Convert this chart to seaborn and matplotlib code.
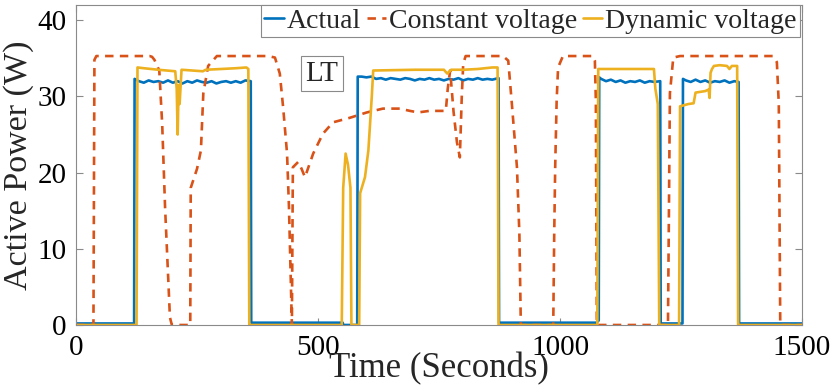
import matplotlib
matplotlib.use("Agg")
import matplotlib.pyplot as plt
import seaborn as sns

# ---- data ----
actual_t = [0, 120, 121, 130, 140, 150, 160, 170, 180, 190, 200, 210, 220, 230, 240, 250,
            260, 270, 280, 290, 300, 310, 320, 330, 340, 350, 361, 362, 551, 552, 581, 582,
            590, 600, 610, 620, 630, 640, 650, 660, 670, 680, 690, 700, 710, 720, 730, 740,
            750, 760, 770, 780, 790, 800, 810, 820, 830, 840, 850, 860, 873, 874, 1075, 1080,
            1081, 1085, 1095, 1105, 1115, 1125, 1135, 1145, 1155, 1165, 1175, 1185, 1195, 1207,
            1208, 1253, 1254, 1260, 1270, 1280, 1290, 1300, 1310, 1320, 1330, 1340, 1350, 1360,
            1369, 1370, 1500]
actual_p = [0.2, 0.2, 32.3, 32.0, 31.8, 32.1, 31.9, 32.0, 31.8, 32.1, 31.8, 32.0, 31.7, 32.0, 31.8, 32.1,
            31.9, 31.8, 32.0, 31.7, 31.9, 32.0, 31.8, 32.0, 31.8, 32.1, 32.0, 0.3, 0.3, 0.0, 0.0, 32.6,
            32.6, 32.5, 32.6, 32.3, 32.4, 32.2, 32.4, 32.3, 32.2, 32.4, 32.3, 32.1, 32.3, 32.2, 32.4, 32.2,
            32.3, 32.1, 32.3, 32.2, 32.4, 32.1, 32.3, 32.2, 32.4, 32.2, 32.3, 32.2, 32.4, 0.3, 0.3, 0.6,
            32.5, 32.3, 32.0, 32.2, 31.9, 32.1, 31.8, 32.0, 31.9, 32.1, 31.8, 32.0, 31.9, 32.0,
            0.2, 0.2, 32.3, 32.1, 31.9, 32.2, 31.9, 32.1, 31.8, 32.0, 31.9, 32.1, 31.8, 32.0,
            31.9, 0.2, 0.2]

constant_t = [0, 36, 38, 42, 152, 157, 162, 172, 178, 184, 190, 194, 198, 236, 237, 250, 258,
              263, 273, 291, 397, 411, 421, 428, 436, 440, 446, 448, 459, 466, 473, 490, 510,
              531, 566, 601, 634, 669, 690, 707, 730, 764, 768, 773, 780, 787, 793, 797, 800,
              805, 882, 893, 900, 911, 916, 919, 986, 988, 990, 993, 996, 1006, 1068, 1072,
              1074, 1076, 1223, 1225, 1227, 1234, 1248, 1440, 1448, 1452, 1455, 1500]
constant_p = [0, 0, 34.8, 35.3, 35.3, 35.2, 34.8, 33.4, 26.4, 15.4, 6.8, 1.0, 0, 0, 18.0, 20.5, 22.9,
              30.4, 34.0, 35.3, 35.3, 35.1, 33.0, 28.5, 22.5, 15.4, 0, 20.7, 21.4, 20.5, 19.4, 22.5, 25.1,
              26.6, 27.2, 27.9, 28.4, 28.4, 28.1, 27.9, 28.1, 28.1, 31.0, 33.4, 28.0, 24.0, 22.0, 30.0, 34.3,
              35.3, 35.3, 34.7, 29.4, 20.7, 12.0, 0, 0, 12.0, 20.7, 29.4, 33.8, 35.3, 35.3, 34.7,
              29.4, 0, 0, 15.0, 30.4, 35.1, 35.3, 35.3, 34.5, 29.0, 0, 0]

dynamic_t = [0, 125, 127, 140, 170, 205, 208, 210, 212, 214, 218, 240, 262, 268, 300, 330, 352,
             356, 358, 549, 552, 557, 562, 567, 569, 585, 587, 597, 604, 611, 614, 700, 760,
             767, 775, 800, 830, 860, 871, 873, 1077, 1079, 1150, 1194, 1197, 1202, 1205, 1246,
             1248, 1265, 1276, 1280, 1300, 1307, 1309, 1311, 1314, 1318, 1330, 1345, 1350, 1355,
             1366, 1368, 1500]
dynamic_p = [0, 0, 33.8, 33.7, 33.5, 33.3, 31.0, 25.0, 31.5, 29.0, 33.5, 33.4, 33.3, 33.5, 33.6, 33.7, 33.8,
             33.6, 0, 0, 18.0, 22.5, 21.0, 18.0, 0, 0, 17.3, 19.4, 22.9, 29.9, 33.4, 33.5, 33.5,
             33.0, 33.5, 33.5, 33.6, 33.8, 33.8, 0, 0, 33.6, 33.6, 33.6, 31.0, 29.0, 0, 0,
             28.7, 29.0, 29.1, 30.5, 30.7, 30.9, 29.8, 33.1, 33.6, 34.0, 34.1, 34.0, 33.6, 34.0,
             34.0, 0, 0]

series_names = ["Actual", "Constant voltage", "Dynamic voltage"]
x_ticks = [0, 500, 1000, 1500]
y_ticks = [0, 10, 20, 30, 40]

# ---- style ----
sns.set_style("ticks")
plt.rcParams["font.family"] = ["Liberation Serif", "DejaVu Serif"]
plt.rcParams["mathtext.fontset"] = "stix"

fig = plt.figure(figsize=(8.3, 3.9), dpi=100)
ax = fig.add_axes([0.0916, 0.1667, 0.8747, 0.8205])

blue, orange, yellow = "#0072BD", "#D95319", "#EDB120"
lw = 1.9
sns.lineplot(x=actual_t, y=actual_p, ax=ax, color=blue, lw=lw, sort=False,
             estimator=None, label=series_names[0])
sns.lineplot(x=constant_t, y=constant_p, ax=ax, color=orange, lw=lw, sort=False,
             estimator=None, label=series_names[1])
ax.lines[-1].set_dashes((3.2, 2.4))
sns.lineplot(x=dynamic_t, y=dynamic_p, ax=ax, color=yellow, lw=lw, sort=False,
             estimator=None, label=series_names[2])

ax.set_xlim(0, 1500)
ax.set_ylim(0, 42)
ax.set_xticks(x_ticks)
ax.set_yticks(y_ticks)

frame = "#8a8a8a"
for s in ax.spines.values():
    s.set_visible(True)
    s.set_color(frame)
    s.set_linewidth(0.8)
ax.tick_params(direction="in", length=5, width=0.8, color=frame, labelcolor="black",
               labelsize=21, top=True, right=True, pad=7)

ax.set_xlabel("Time (Seconds)", fontsize=25, labelpad=-6)
ax.set_ylabel("Active Power (W)", fontsize=24.5, labelpad=2)

leg = ax.legend(loc="upper right", bbox_to_anchor=(0.997, 1.0), borderaxespad=0,
                ncol=3, fontsize=20.1, frameon=True, fancybox=False, framealpha=1,
                edgecolor=frame, borderpad=0.12, handlelength=0.7, handletextpad=0.1,
                columnspacing=0.2)
leg.get_frame().set_linewidth(0.8)

ax.text(508, 33.0, "LT", fontsize=21, ha="center", va="center",
        bbox=dict(boxstyle="square,pad=0.15", fc="white", ec=frame, lw=0.8))

fig.savefig("out.png", dpi=100)
